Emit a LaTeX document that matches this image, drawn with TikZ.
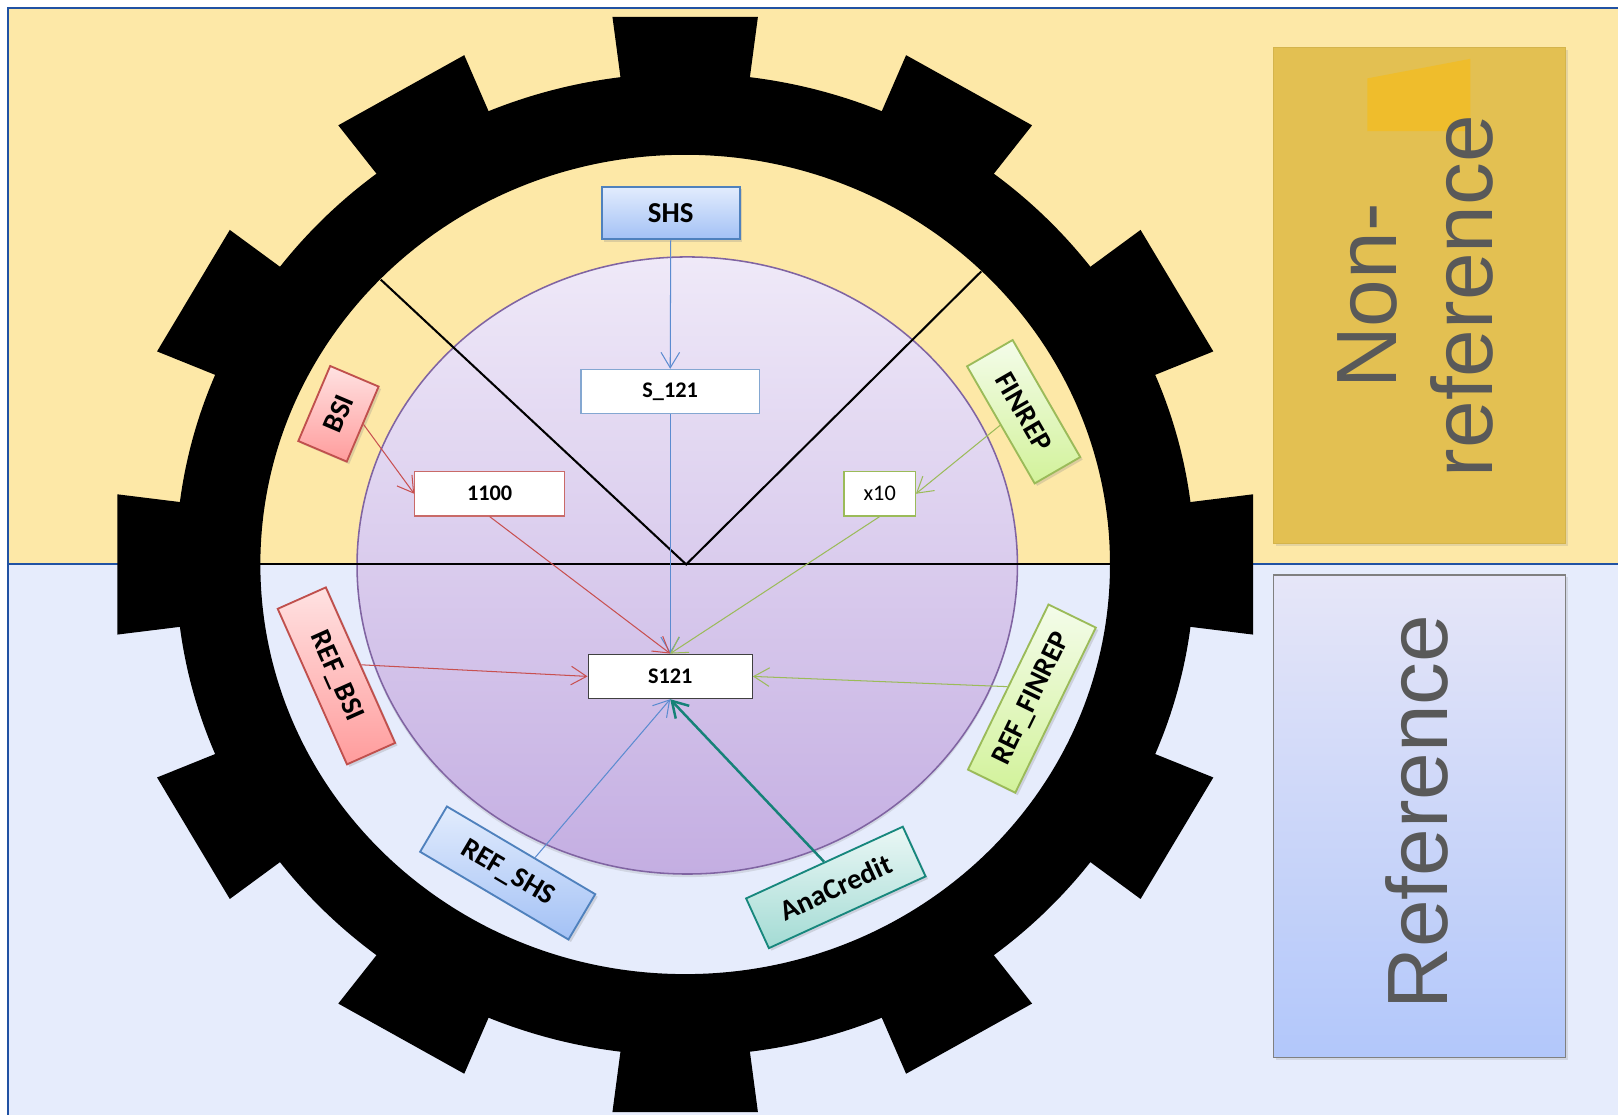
\documentclass[tikz,border=0pt]{standalone}
\usepackage{fontspec}
\newfontfamily\calfont{Carlito}
\newfontfamily\arialfont{Liberation Sans}
\usetikzlibrary{arrows.meta,shadows}
\definecolor{bgyellow}{HTML}{FDE8A7}
\definecolor{bgblue}{HTML}{E6ECFC}
\definecolor{borderblue}{HTML}{2152A3}
\definecolor{ptop}{HTML}{EFE9F8}
\definecolor{pbot}{HTML}{C4AEE2}
\definecolor{pborder}{HTML}{8064A2}
\definecolor{redlight}{HTML}{FFE2E2}
\definecolor{reddark}{HTML}{FF9C9C}
\definecolor{redborder}{HTML}{C0504D}
\definecolor{greenlight}{HTML}{F4FCEA}
\definecolor{greendark}{HTML}{D2F29A}
\definecolor{greenborder}{HTML}{9BBB59}
\definecolor{bluelight}{HTML}{E2ECFD}
\definecolor{bluedark}{HTML}{A3C1F5}
\definecolor{blueborder}{HTML}{4F81BD}
\definecolor{teallight}{HTML}{EAF7F5}
\definecolor{tealdark}{HTML}{A3DBD4}
\definecolor{tealborder}{HTML}{17877D}
\definecolor{goldpanel}{HTML}{E3C052}
\definecolor{goldborder}{HTML}{D4B44C}
\definecolor{goldspot}{HTML}{EFBD2C}
\definecolor{reftop}{HTML}{E6E6F8}
\definecolor{refbot}{HTML}{B2C7FA}
\definecolor{graytext}{HTML}{595959}
\definecolor{lineblue}{HTML}{5B8BD0}
\definecolor{linered}{HTML}{C85050}
\definecolor{linegreen}{HTML}{9BBB59}
\definecolor{lineteal}{HTML}{168278}
\begin{document}
\begin{tikzpicture}[x=0.5pt,y=-0.5pt,
  smallbox/.style={draw, fill=white, line width=0.6pt, minimum height=21.5pt, inner sep=0pt,
    font=\calfont\bfseries\fontsize{10.8}{12}\selectfont},
  tagbox/.style={line width=0.9pt, minimum height=25.5pt, inner sep=0pt,
    font=\calfont\bfseries\fontsize{14}{16}\selectfont,
    drop shadow={opacity=0.25, shadow xshift=1.2pt, shadow yshift=-1.2pt}},
  redtag/.style={tagbox, draw=redborder, top color=redlight, bottom color=reddark},
  greentag/.style={tagbox, draw=greenborder, top color=greenlight, bottom color=greendark},
  bluetag/.style={tagbox, draw=blueborder, top color=bluelight, bottom color=bluedark},
  tealtag/.style={tagbox, draw=tealborder, top color=teallight, bottom color=tealdark},
  conn/.style={line width=0.5pt, -{Straight Barb[length=7.5pt,width=9pt]}},
  bigtext/.style={text=graytext, font=\arialfont\fontsize{41.5}{46.5}\selectfont, align=center, rotate=90}
]
\useasboundingbox (0,0) rectangle (1568,1081);
\fill[white] (0,0) rectangle (1568,1081);
\fill[bgyellow] (8,8) rectangle (1568,547);
\fill[bgblue] (8,547) rectangle (1568,1081);
\draw[borderblue, line width=1pt] (1568,8) -- (8,8) -- (8,1081);
\draw[borderblue, line width=1pt] (8,547) -- (1568,547);

% gear
\begin{scope}[shift={(664,547)}, xscale=1.037]
  \fill[black, even odd rule] (0,0) circle[radius=476] (0,0) circle[radius=397];
  \foreach \a in {0,30,...,330}{
    \fill[black] (\a-7.3:466) -- (\a-7.3:535) -- (\a+7.3:535) -- (\a+7.3:466) -- cycle;
  }
\end{scope}

% purple disc
\shadedraw[top color=ptop, bottom color=pbot, draw=pborder, line width=0.75pt,
  drop shadow={opacity=0.2, shadow xshift=0pt, shadow yshift=-1.5pt}]
  (666,548) ellipse [x radius=320, y radius=299];

% black lines
\coordinate (hl) at (252,547);
\coordinate (hr) at (1076,547);
\coordinate (vl) at (369,271);
\coordinate (vtip) at (665,547);
\coordinate (vr) at (951,263);
\draw[black, line width=1pt] (hl) -- (hr);
\draw[black, line width=1pt] (vl) -- (vtip) -- (vr);

% right panels
\node[draw=goldborder, fill=goldpanel, line width=0.6pt, minimum width=141.5pt, minimum height=240.5pt,
  drop shadow={opacity=0.2, shadow xshift=1.2pt, shadow yshift=-1.2pt}] (nonrefbox) at (1375.5,286.5) {};
\fill[goldspot] (1325,76) -- (1425,57) -- (1425,127) -- (1325,127) -- cycle;
\node[bigtext] (nonreftext) at (1372,287) {Non-\\reference};
\node[draw=gray, top color=reftop, bottom color=refbot, line width=0.75pt, minimum width=141.5pt, minimum height=234pt,
  drop shadow={opacity=0.2, shadow xshift=1.2pt, shadow yshift=-1.2pt}] (refbox) at (1375.5,791) {};
\node[bigtext] (reftext) at (1373,787) {Reference};

% boxes
\node[bluetag, rotate=0, minimum width=67pt] (shs) at (650,206.5) {SHS};
\node[smallbox, draw=blueborder!70, minimum width=86.5pt] (s121a) at (649.5,379.5) {S\_121};
\node[smallbox, draw=redborder!85, minimum width=72.5pt] (n1100) at (474.5,478.5) {1100};
\node[smallbox, draw=greenborder, minimum width=34.5pt, font=\calfont\fontsize{10.8}{12}\selectfont] (x10) at (852.5,478.5) {x10};
\node[smallbox, draw=black!75, minimum width=79.5pt] (s121) at (649.5,655.5) {S121};

\node[redtag, rotate=67, minimum width=39.5pt] (bsi) at (328,401) {BSI};
\node[redtag, rotate=-66, minimum width=82.5pt] (refbsi) at (326,655) {REF\_BSI};
\node[greentag, rotate=-60, minimum width=65.5pt] (finrep) at (992,399) {FINREP};
\node[greentag, rotate=64, minimum width=89pt] (reffinrep) at (1000,677) {REF\_FINREP};
\node[bluetag, rotate=-30.6, minimum width=83.5pt] (refshs) at (492,846) {REF\_SHS};
\node[tealtag, rotate=24.6, minimum width=83.5pt, minimum height=26.5pt] (anacredit) at (810,860) {AnaCredit};

% connectors
\draw[conn, lineblue] (shs.south) -- (s121a.north);
\draw[conn, lineblue] (s121a.south) -- (s121.north);
\draw[conn, linered] (bsi.south) -- (n1100.west);
\draw[conn, linered] (n1100.south) -- (s121.north);
\draw[conn, linegreen] (finrep.south) -- (x10.east);
\draw[conn, linegreen] (x10.south) -- (s121.north);
\draw[conn, linered] (refbsi.north) -- (s121.west);
\draw[conn, linegreen] (reffinrep.north) -- (s121.east);
\draw[conn, lineblue] (refshs.60) -- (s121.south);
\draw[conn, lineteal, line width=1.2pt] (anacredit.north) -- (s121.south);
\end{tikzpicture}
\end{document}
